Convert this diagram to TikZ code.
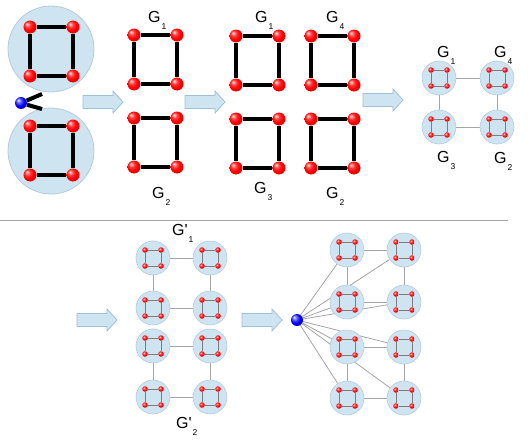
\documentclass[tikz,border=0pt]{standalone}
\usepackage{fontspec}
\setmainfont{Liberation Sans}
\usetikzlibrary{backgrounds}

\definecolor{blobfill}{RGB}{207,228,241}
\definecolor{blobline}{RGB}{180,204,220}
\definecolor{arrowline}{RGB}{160,192,214}
\definecolor{linkgray}{RGB}{165,165,165}
\definecolor{sqgray}{RGB}{125,125,125}

\pgfdeclareradialshading{redball}{\pgfpoint{-12bp}{12bp}}{%
  color(0bp)=(red!8!white); color(10bp)=(red!75!white); color(20bp)=(red);
  color(30bp)=(red!88!black); color(50bp)=(red!75!black)}
\pgfdeclareradialshading{blueball}{\pgfpoint{-12bp}{12bp}}{%
  color(0bp)=(blue!8!white); color(10bp)=(blue!65!white); color(20bp)=(blue);
  color(30bp)=(blue!85!black); color(50bp)=(blue!70!black)}

\newcommand{\lowsub}[1]{\raisebox{-7pt}{\fontsize{8.5}{8.5}\selectfont\kern1pt #1}}

\tikzset{
  bigblob/.style={circle, fill=blobfill, draw=blobline, line width=0.8pt, minimum size=86pt, inner sep=0pt},
  blob/.style={circle, fill=blobfill, draw=blobline, line width=0.6pt, minimum size=34pt, inner sep=0pt},
  bigdot/.style={circle, shading=redball, minimum size=13pt, inner sep=0pt},
  dot/.style={circle, shading=redball, minimum size=5.5pt, inner sep=0pt},
  bluedot/.style={circle, shading=blueball, minimum size=12pt, inner sep=0pt},
  bigedge/.style={line width=4pt, black},
  thinedge/.style={line width=0.8pt, sqgray},
  link/.style={line width=0.8pt, linkgray},
  lab/.style={font=\fontsize{16}{16}\selectfont, inner sep=0pt, anchor=base west},
  bigarrow/.pic={\draw[fill=blobfill, draw=arrowline, line width=0.8pt]
    (0,-6.5) -- (30,-6.5) -- (30,-11) -- (40,0) -- (30,11) -- (30,6.5) -- (0,6.5) -- cycle;}
}

\begin{document}
\begin{tikzpicture}[x=1pt, y=-1pt]
  \useasboundingbox (0,0) rectangle (528,447);

  % left: one graph with a cut vertex
  \node[bigblob] (o1) at (51,49) {};
  \node[bigblob] (o2) at (51,151) {};
  \node[bluedot] (bb1) at (21,103) {};
  \coordinate (k1) at (42,94);
  \coordinate (k2) at (42,109);
  \draw[bigedge] (bb1) -- (k1);
  \draw[bigedge] (bb1) -- (k2);

  \foreach \n/\x/\y in {t/30/27, u/30/126, b/134/35, c/134/118, d/236/36, e/311/36, f/236/119, g/311/119} {
    \node[bigdot] (\n1) at (\x,\y) {};
    \node[bigdot] (\n2) at (\x+43,\y) {};
    \node[bigdot] (\n3) at (\x+43,\y+49) {};
    \node[bigdot] (\n4) at (\x,\y+49) {};
    \draw[bigedge] (\n1) -- (\n2) -- (\n3) -- (\n4) -- (\n1);
  }

  \node[lab] (gb) at (148,23) {G\lowsub{1}};
  \node[lab] (gc) at (152,198) {G\lowsub{2}};
  \node[lab] (gd) at (255,23) {G\lowsub{1}};
  \node[lab] (ge) at (326,23) {G\lowsub{4}};
  \node[lab] (gf) at (254,193) {G\lowsub{3}};
  \node[lab] (gg) at (326,198) {G\lowsub{2}};

  % arrows
  \pic (a1) at (83,102) {bigarrow};
  \pic (a2) at (185,102) {bigarrow};
  \pic (a3) at (363,100) {bigarrow};
  \pic (a4) at (77,320) {bigarrow};
  \pic (a5) at (242,320) {bigarrow};

  % contracted graphs
  \foreach \n/\x/\y in {r1/439/78, r4/497/78, r3/439/127, r2/497/127,
      l1/153/258, l2/210/258, l3/153/308, l4/210/308,
      l5/153/346, l6/210/346, l7/153/397, l8/210/397,
      m1/347/250, m2/404/250, m3/347/302, m4/404/302,
      m5/347/347, m6/404/347, m7/347/398, m8/404/398} {
    \node[blob] (\n) at (\x,\y) {};
    \node[dot] (\n-a) at (\x-8,\y-8) {};
    \node[dot] (\n-b) at (\x+8,\y-8) {};
    \node[dot] (\n-c) at (\x+8,\y+8) {};
    \node[dot] (\n-d) at (\x-8,\y+8) {};
    \draw[thinedge] (\n-a) -- (\n-b) -- (\n-c) -- (\n-d) -- (\n-a);
  }
  \node[bluedot] (bb2) at (297,320) {};

  \begin{scope}[on background layer]
    \draw[link] (r1) -- (r4) -- (r2) -- (r3) -- (r1);
    \draw[link] (l1) -- (l2) -- (l4) -- (l3) -- (l1);
    \draw[link] (l5) -- (l6) -- (l8) -- (l7) -- (l5);
    \draw[link] (m1) -- (m2) -- (m4) -- (m3) -- (m1);
    \draw[link] (m5) -- (m6) -- (m8) -- (m7) -- (m5);
    \foreach \m in {m1,m2,m3,m4,m5,m6,m7,m8}
      \draw[link] (bb2) -- (\m);
  \end{scope}

  \node[lab] (gr1) at (437,57) {G\lowsub{1}};
  \node[lab] (gr4) at (494,57) {G\lowsub{4}};
  \node[lab] (gr3) at (437,162) {G\lowsub{3}};
  \node[lab] (gr2) at (494,163) {G\lowsub{2}};
  \node[lab] (gl1) at (172,235) {G\textquotesingle\lowsub{1}};
  \node[lab] (gl2) at (176,428) {G\textquotesingle\lowsub{2}};

  \draw[link] (0,220) -- (508,220);
\end{tikzpicture}
\end{document}
